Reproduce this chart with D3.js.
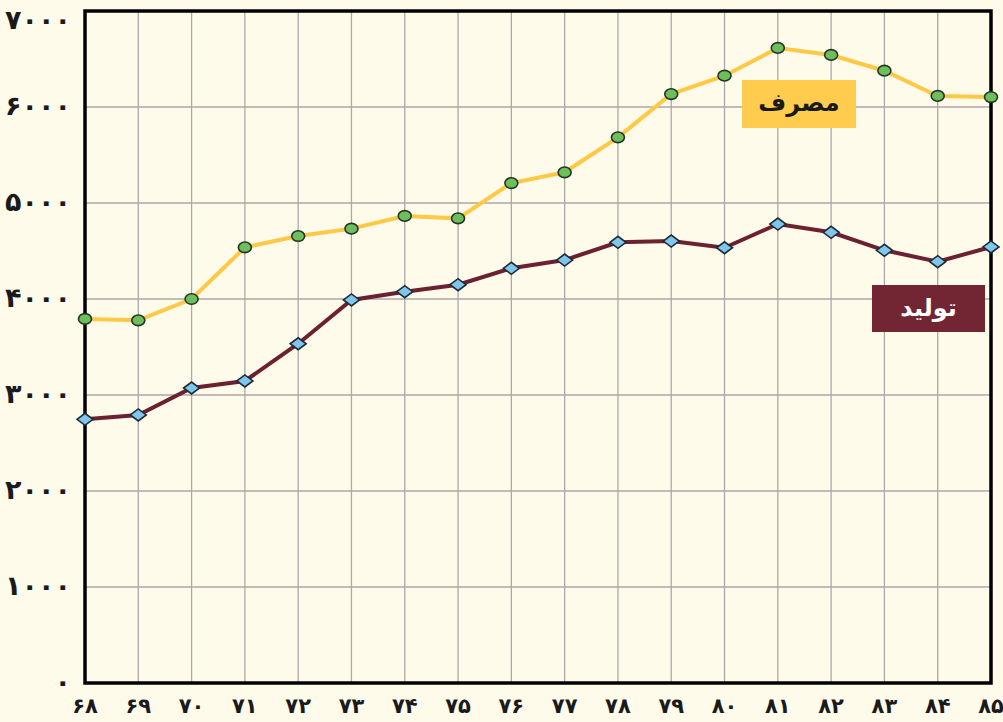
<!DOCTYPE html>
<html>
<head>
<meta charset="utf-8">
<script src="https://cdn.jsdelivr.net/npm/d3@7"></script>
<style>
  html, body { margin: 0; padding: 0; background: #FEFBEA; }
  svg { display: block; }
</style>
</head>
<body>
<svg id="chart" width="1003" height="722"></svg>
<script>
const years = ["۶۸","۶۹","۷۰","۷۱","۷۲","۷۳","۷۴","۷۵","۷۶","۷۷","۷۸","۷۹","۸۰","۸۱","۸۲","۸۳","۸۴","۸۵"];
const consumption = [3792, 3778, 4000, 4538, 4656, 4733, 4865, 4840, 5208, 5320, 5684, 6135, 6326, 6615, 6542, 6378, 6115, 6104];
const production  = [2747, 2792, 3073, 3146, 3534, 3990, 4076, 4149, 4320, 4406, 4590, 4604, 4534, 4781, 4695, 4507, 4389, 4542];
const yTicks = [0, 1000, 2000, 3000, 4000, 5000, 6000, 7000];
const yTickLabels = ["۰", "۱۰۰۰", "۲۰۰۰", "۳۰۰۰", "۴۰۰۰", "۵۰۰۰", "۶۰۰۰", "۷۰۰۰"];
const consumptionLabel = "مصرف";
const productionLabel = "تولید";

const svg = d3.select("#chart");
const W = 1003, H = 722;
const m = { left: 85, right: 12, top: 11, bottom: 39 };
const iw = W - m.left - m.right, ih = H - m.top - m.bottom;

svg.append("rect").attr("width", W).attr("height", H).attr("fill", "#FEFBEA");

const x = d3.scalePoint().domain(years).range([m.left, m.left + iw]);
const y = d3.scaleLinear().domain([0, 7000]).range([m.top + ih, m.top]);

// grid
const g = svg.append("g");
g.selectAll("line.v").data(years).join("line")
  .attr("x1", d => x(d)).attr("x2", d => x(d))
  .attr("y1", m.top).attr("y2", m.top + ih)
  .attr("stroke", "#A9A9A9").attr("stroke-width", 1.3);
g.selectAll("line.h").data(yTicks).join("line")
  .attr("x1", m.left).attr("x2", m.left + iw)
  .attr("y1", d => y(d)).attr("y2", d => y(d))
  .attr("stroke", "#A9A9A9").attr("stroke-width", 1.3);

// y labels
svg.append("g").selectAll("text").data(yTicks).join("text")
  .attr("x", 71)
  .attr("y", d => Math.max(y(d), m.top + 10))
  .attr("dy", "0.3em")
  .attr("text-anchor", "end")
  .attr("font-family", "DejaVu Sans")
  .attr("font-weight", "bold")
  .attr("font-size", 27)
  .attr("letter-spacing", -2)
  .attr("fill", "#1a1a1a")
  .text((d, i) => yTickLabels[i]);

// x labels
svg.append("g").selectAll("text").data(years).join("text")
  .attr("x", d => x(d))
  .attr("y", 707)
  .attr("dy", "0.3em")
  .attr("text-anchor", "middle")
  .attr("font-family", "DejaVu Sans")
  .attr("font-weight", "bold")
  .attr("font-size", 21)
  .attr("fill", "#1a1a1a")
  .text(d => d);

// frame
svg.append("rect")
  .attr("x", m.left).attr("y", m.top).attr("width", iw).attr("height", ih)
  .attr("fill", "none").attr("stroke", "#000").attr("stroke-width", 3.5);

const line = d3.line().x((d, i) => x(years[i])).y(d => y(d));

svg.append("path").datum(consumption).attr("d", line)
  .attr("fill", "none").attr("stroke", "#FFC845").attr("stroke-width", 4);
svg.append("path").datum(production).attr("d", line)
  .attr("fill", "none").attr("stroke", "#6C2130").attr("stroke-width", 4);

svg.append("g").selectAll("ellipse").data(consumption).join("ellipse")
  .attr("cx", (d, i) => x(years[i])).attr("cy", d => y(d))
  .attr("rx", 6.5).attr("ry", 5.3)
  .attr("fill", "#6CBF5A").attr("stroke", "#253325").attr("stroke-width", 1.6);

svg.append("g").selectAll("path").data(production).join("path")
  .attr("transform", (d, i) => `translate(${x(years[i])},${y(d)})`)
  .attr("d", "M-8,0L0,-6L8,0L0,6Z")
  .attr("fill", "#7FC6EE").attr("stroke", "#1f2a33").attr("stroke-width", 1.6);

// label boxes
function labelBox(cx, cy, w, h, fill, textColor, txt) {
  svg.append("rect").attr("x", cx - w / 2).attr("y", cy - h / 2).attr("width", w).attr("height", h).attr("fill", fill);
  svg.append("text").attr("x", cx).attr("y", cy).attr("dy", "0.3em")
    .attr("text-anchor", "middle").attr("font-family", "DejaVu Sans").attr("font-weight", "bold")
    .attr("font-size", 24).attr("fill", textColor).attr("direction", "rtl").text(txt);
}
labelBox(799, 104, 114, 48, "#FFCC4E", "#1a1a1a", consumptionLabel);
labelBox(928.5, 308.5, 113, 47, "#722633", "#ffffff", productionLabel);
</script>
</body>
</html>
